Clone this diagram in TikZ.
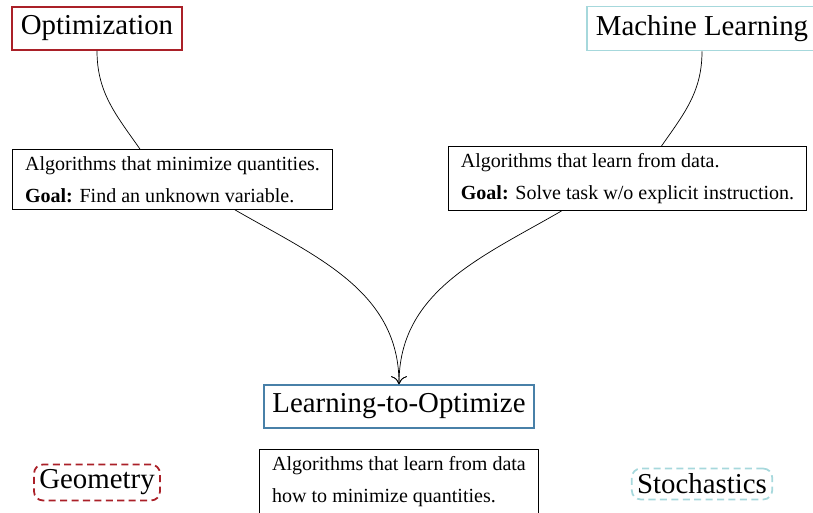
\documentclass[tikz,border=0pt]{standalone}
\usepackage{fontspec}
\setmainfont{Liberation Serif}[Scale=1.14]
\usepackage{tikz}
\usetikzlibrary{arrows.meta, positioning}

\definecolor{optred}{RGB}{170,32,40}
\definecolor{mlteal}{RGB}{166,216,220}
\definecolor{ltoblue}{RGB}{72,128,168}

\tikzset{
    topic/.style={draw, line width=1pt, font=\Large, inner sep=5pt},
    infobox/.style={draw, line width=0.5pt, align=left, inner xsep=7pt, inner ysep=4pt},
    side/.style={draw, dash pattern=on 4pt off 2.5pt, line width=1pt, rounded corners=5pt, font=\Large, inner sep=3pt},
    joins/.style={-{To[length=4.5pt, width=9pt]}}
}

\begin{document}
\begin{tikzpicture}
    \useasboundingbox (0,0) rectangle (16.26,-10.26);

    % the two fields and what they do
    \node[topic, draw=optred] (opt) at (1.94,-0.57) {Optimization};
    \node[topic, draw=mlteal] (ml) at (14.04,-0.57) {Machine Learning};

    \node[infobox] (minbox) at (3.45,-3.59)
        {Algorithms that minimize quantities.\\[6pt]\textbf{Goal:} Find an unknown variable.};
    \node[infobox] (learnbox) at (12.55,-3.57)
        {Algorithms that learn from data.\\[6pt]\textbf{Goal:} Solve task w/o explicit instruction.};

    % where they meet
    \node[topic, draw=ltoblue] (lto) at (7.98,-8.13) {Learning-to-Optimize};
    \node[infobox, anchor=north, below=0.4cm of lto] (ltobox)
        {Algorithms that learn from data\\[6pt]how to minimize quantities.};

    \node[side, draw=optred] (geo) at (1.94,-9.65) {Geometry};
    \node[side, draw=mlteal] (sto) at (14.04,-9.68) {Stochastics};

    \draw (opt.south) to[out=-90, in=125] ([xshift=-0.65cm]minbox.north);
    \draw (ml.south) to[out=-90, in=55] ([xshift=0.68cm]learnbox.north);

    \draw[joins] ([xshift=1.25cm]minbox.south) to[out=-30, in=90] (lto.north);
    \draw[joins] ([xshift=-1.32cm]learnbox.south) to[out=-150, in=90] (lto.north);
\end{tikzpicture}
\end{document}
